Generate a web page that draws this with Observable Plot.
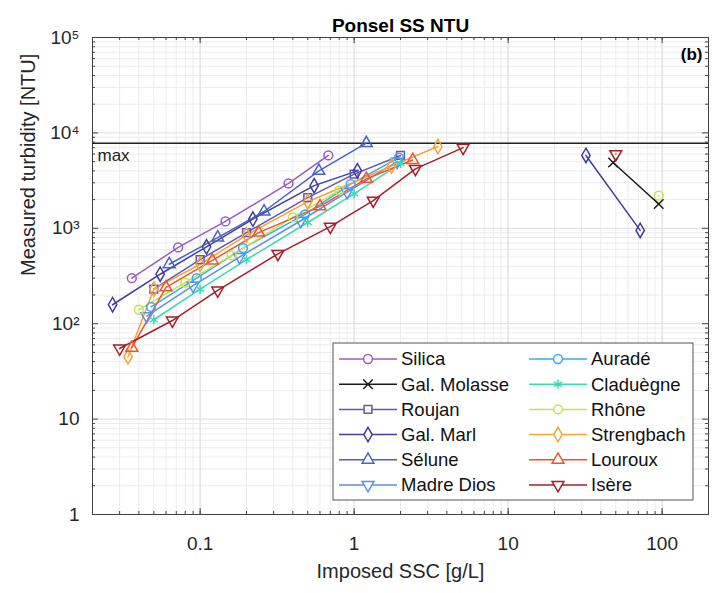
<!DOCTYPE html>
<html><head><meta charset="utf-8">
<script src="https://cdn.jsdelivr.net/npm/d3@7"></script>
<script src="https://cdn.jsdelivr.net/npm/@observablehq/plot@0.6"></script>
<style>
body{margin:0;background:#fff}
svg{font-family:"Liberation Sans",Arial,Helvetica,sans-serif}
</style>
</head><body><div id="chart"></div>
<script>
// ---- data ----
const chartTitle = "Ponsel SS NTU";
const xLabel = "Imposed SSC [g/L]";
const yLabel = "Measured turbidity [NTU]";
const maxNTU = 7800;
const xTicks = [0.1, 1, 10, 100];
const yTicks = [1, 10, 100, 1000, 10000, 100000];
const yTickLabels = ["1", "10", "10²", "10³", "10⁴", "10⁵"];

const seriesNames = ["Silica","Gal. Molasse","Roujan","Gal. Marl","Sélune","Madre Dios",
  "Auradé","Claduègne","Rhône","Strengbach","Louroux","Isère"];
const seriesColors = ["#9a5cc2","#1a1a1a","#6457b0","#3f3fa0","#4a62c8","#5a90ea",
  "#3aa8f0","#3cd8b8","#c6e446","#f5a23a","#e8582e","#a3202a"];
const seriesSymbols = ["circle","times","square","diamond","triangle","triangleDown",
  "circle","asterisk","circle","diamond","triangle","triangleDown"];

// each series: list of segments, each segment a list of [SSC, NTU]
const silica      = [[[0.036,300],[0.072,630],[0.146,1180],[0.375,2950],[0.68,5800]]];
const galMolasse  = [[[48,4900],[95,1800]]];
const roujan      = [[[0.05,230],[0.1,470],[0.2,900],[0.5,2100],[1.0,3700],[2.0,5800]]];
const galMarl     = [[[0.027,158],[0.055,330],[0.11,640],[0.22,1250],[0.55,2800],[1.05,4000]],[[32,5800],[72,950]]];
const selune      = [[[0.063,420],[0.13,800],[0.26,1500],[0.59,4000],[1.2,7800]]];
const madreDios   = [[[0.045,120],[0.09,250],[0.18,500],[0.45,1200],[0.9,2400],[1.9,5000]]];
const aurade      = [[[0.048,150],[0.095,300],[0.19,620],[0.48,1400],[0.95,2900],[1.95,5500]]];
const claduegne   = [[[0.05,110],[0.1,230],[0.2,470],[0.5,1150],[1.0,2300],[2.0,4800]]];
const rhone       = [[[0.04,140],[0.08,270],[0.16,520],[0.4,1300],[0.8,2500]],[[95,2200]]];
const strengbach  = [[[0.034,45],[0.05,230],[0.1,420],[0.2,850],[0.5,1900],[1.75,4500],[3.5,7200]]];
const louroux     = [[[0.036,56],[0.06,240],[0.12,460],[0.24,900],[0.6,1700],[1.2,3300],[2.4,5200]]];
const isere       = [[[0.030,55],[0.066,108],[0.13,223],[0.32,540],[0.70,1040],[1.33,1950],[2.5,4200],[5.1,7000]],[[50,6000]]];

const seriesData = [silica,galMolasse,roujan,galMarl,selune,madreDios,aurade,claduegne,rhone,strengbach,louroux,isere];

// ---- build table ----
const rows = [];
seriesData.forEach((segs, i) => segs.forEach((seg, j) => seg.forEach(([x, y]) =>
  rows.push({series: seriesNames[i], seg: seriesNames[i] + "#" + j, x, y}))));

const triangleDown = {
  draw(ctx, size) {
    const y = -Math.sqrt(size / (Math.sqrt(3) * 3));
    const s3 = Math.sqrt(3);
    ctx.moveTo(0, -y * 2);
    ctx.lineTo(-s3 * y, y);
    ctx.lineTo(s3 * y, y);
    ctx.closePath();
  }
};
const symbolOf = s => s === "triangleDown" ? triangleDown : s;
const colorOf = name => seriesColors[seriesNames.indexOf(name)];
const symOf = name => symbolOf(seriesSymbols[seriesNames.indexOf(name)]);

// grid values
const xMinor = [], yMinor = [];
for (let e = -2; e <= 2; e++) for (let k = 1; k <= 9; k++) { const v = k * 10 ** e; if (v >= 0.02 && v <= 200) xMinor.push(v); }
for (let e = 0; e <= 4; e++) for (let k = 2; k <= 9; k++) yMinor.push(k * 10 ** e);

const W = 718, H = 593;
const mTop = 37, mBottom = 79, mLeft = 92, mRight = 10;
const innerH = H - mTop - mBottom;
const innerW = W - mLeft - mRight;
const fam = '"Liberation Sans",Arial,Helvetica,sans-serif';

const chart = Plot.plot({
  width: W, height: H,
  marginTop: mTop, marginBottom: mBottom, marginLeft: mLeft, marginRight: mRight,
  style: {fontFamily: fam, background: "#fff", color: "#262626"},
  x: {type: "log", domain: [0.02, 200]},
  y: {type: "log", domain: [1, 100000]},
  marks: [
    // grid
    Plot.ruleX(xMinor, {stroke: "#ececec", strokeWidth: 1}),
    Plot.ruleY(yMinor, {stroke: "#ececec", strokeWidth: 1}),
    Plot.ruleX(xTicks, {stroke: "#dedede", strokeWidth: 1}),
    Plot.ruleY(yTicks, {stroke: "#dedede", strokeWidth: 1}),
    // inward ticks on all sides
    Plot.ruleX(xMinor, {insetTop: innerH - 3, stroke: "#444"}),
    Plot.ruleX(xMinor, {insetBottom: innerH - 3, stroke: "#444"}),
    Plot.ruleX(xTicks, {insetTop: innerH - 6, stroke: "#444"}),
    Plot.ruleX(xTicks, {insetBottom: innerH - 6, stroke: "#444"}),
    Plot.ruleY(yMinor, {insetRight: innerW - 3, stroke: "#444"}),
    Plot.ruleY(yMinor, {insetLeft: innerW - 3, stroke: "#444"}),
    Plot.ruleY(yTicks, {insetRight: innerW - 6, stroke: "#444"}),
    Plot.ruleY(yTicks, {insetLeft: innerW - 6, stroke: "#444"}),
    Plot.frame({stroke: "#404040", strokeWidth: 1}),
    // axes labels
    Plot.axisX({ticks: xTicks, tickSize: 0, tickPadding: 22, fontSize: 19, tickFormat: d => String(d), label: null}),
    Plot.axisY({ticks: yTicks, tickSize: 0, tickPadding: 13, fontSize: 19, tickFormat: d => yTickLabels[yTicks.indexOf(d)], label: null}),
    Plot.text([xLabel], {frameAnchor: "bottom", dy: 63, fontSize: 20, fill: "#262626"}),
    Plot.text([yLabel], {frameAnchor: "left", rotate: -90, dx: -64, fontSize: 20, fill: "#262626"}),
    Plot.text([chartTitle], {frameAnchor: "top", dy: -19, fontSize: 19, fontWeight: "bold", fill: "#000"}),
    Plot.text(["(b)"], {frameAnchor: "top-right", dx: -6, dy: 10, fontSize: 17, fontWeight: "bold", fill: "#000", textAnchor: "end"}),
    // max line
    Plot.ruleY([maxNTU], {stroke: "#222", strokeWidth: 1.5}),
    Plot.text([maxNTU], {y: d => d, frameAnchor: "left", dx: 5, dy: 12, text: () => "max", textAnchor: "start", fontSize: 17, fill: "#222"}),
    // series
    Plot.line(rows, {x: "x", y: "y", z: "seg", stroke: d => colorOf(d.series), strokeWidth: 1.5}),
    ...seriesNames.map(name => Plot.dot(rows.filter(r => r.series === name), {
      x: "x", y: "y", r: 4.4, symbol: () => symOf(name), stroke: colorOf(name), strokeWidth: 1.5, fill: "none"
    }))
  ]
});
document.getElementById("chart").appendChild(chart);

// legend (drawn in the same SVG)
const svg = d3.select(chart);
const lx = 333, ly = 343, lw = 360, lh = 157;
const lg = svg.append("g").attr("text-anchor", "start");
lg.append("rect").attr("x", lx).attr("y", ly).attr("width", lw).attr("height", lh)
  .attr("fill", "#fff").attr("stroke", "#555").attr("stroke-width", 1);
seriesNames.forEach((name, i) => {
  const col = Math.floor(i / 6), row = i % 6;
  const x0 = lx + 6 + col * 190, y0 = ly + 16 + row * 25.2;
  const g = lg.append("g");
  g.append("line").attr("x1", x0).attr("x2", x0 + 58).attr("y1", y0).attr("y2", y0)
    .attr("stroke", seriesColors[i]).attr("stroke-width", 1.5);
  const sym = symbolOf(seriesSymbols[i]);
  const symObj = typeof sym === "string" ? ({circle: d3.symbolCircle, times: d3.symbolTimes, square: d3.symbolSquare,
    diamond: d3.symbolDiamond, triangle: d3.symbolTriangle, asterisk: d3.symbolAsterisk})[sym] : sym;
  g.append("path").attr("d", d3.symbol(symObj, 4.4 * 4.4 * Math.PI)())
    .attr("transform", `translate(${x0 + 29},${y0})`)
    .attr("fill", "#fff").attr("stroke", seriesColors[i]).attr("stroke-width", 1.5);
  g.append("text").attr("x", x0 + 62).attr("y", y0).attr("dy", "0.35em").attr("text-anchor", "start")
    .attr("font-size", 18.5).attr("fill", "#111").text(name);
});
</script>
</body></html>
